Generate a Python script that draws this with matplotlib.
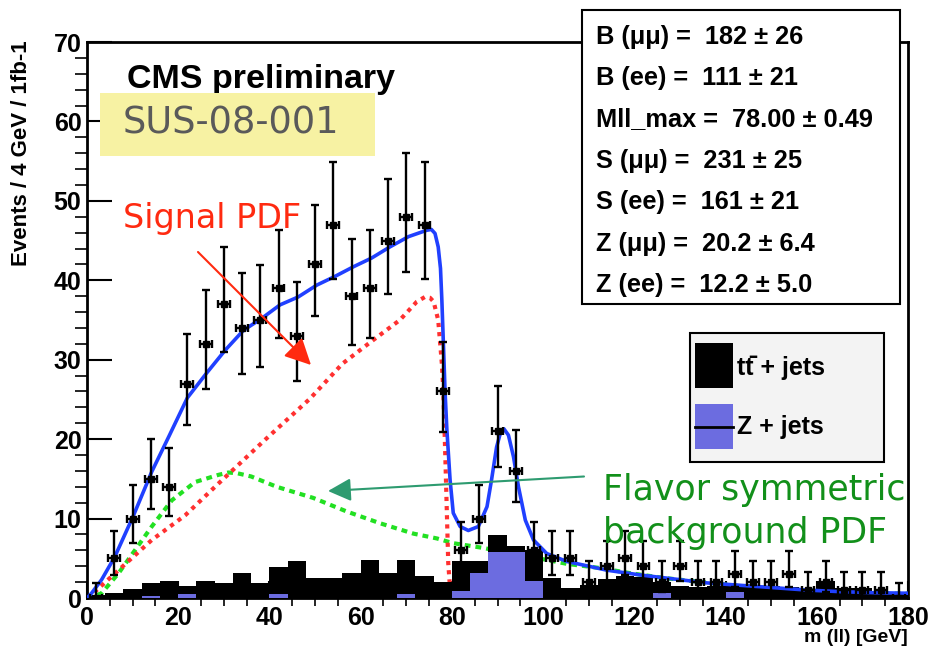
import numpy as np
import matplotlib
matplotlib.use("Agg")
import matplotlib.pyplot as plt
from matplotlib.patches import Rectangle, FancyArrowPatch
from matplotlib.lines import Line2D

W, H = 935, 657

# 4 GeV bins from 0 to 180 GeV
edges = np.arange(0, 184, 4)
centers = edges[:-1] + 2

# observed events per bin
data_counts = [0, 5, 10, 15, 14, 27, 32, 37, 34, 35,
               39, 33, 42, 47, 38, 39, 45, 48, 47, 26,
               6, 10, 21, 16, 6, 5, 5, 2, 4, 5,
               4, 2, 4, 2, 2, 3, 2, 2, 3, 1,
               2, 1, 1, 1, 0]

# stacked MC: ttbar + Z (total) and Z+jets on its own
total_mc = [0.4, 0.6, 1.1, 1.85, 2.2, 1.5, 2.2, 1.85, 3.1, 1.85,
            3.9, 4.6, 2.5, 2.5, 3.1, 4.8, 3.1, 4.8, 2.8, 2.0,
            4.6, 4.6, 7.9, 6.5, 6.0, 2.5, 1.3, 1.6, 2.4, 2.8,
            2.6, 2.0, 1.5, 1.4, 1.5, 1.6, 1.4, 1.5, 1.4, 1.0,
            2.2, 1.2, 1.2, 0.8, 0.8]
z_jets = [0, 0, 0, 0.3, 0, 0.5, 0, 0, 0, 0,
          0.5, 0, 0, 0, 0, 0, 0, 0.5, 0, 0,
          0.9, 3.2, 5.8, 5.8, 2.2, 0, 0, 0, 0, 0,
          0, 0.6, 0, 0, 0, 0.7, 0, 0, 0, 0,
          0, 0, 0, 0, 0]

# fitted PDFs, sampled along m(ll)
total_m = [0, 1, 3.2, 6.1, 10.2, 14.2, 18, 22, 26.2, 30.3, 34.3, 38.3, 42.3,
           46.3, 50.4, 54.4, 58.4, 62.4, 66.4, 70.5, 74.5, 75.5, 76.3, 77,
           77.5, 77.8, 78.2, 78.5, 78.9, 79.6, 80.3, 81.8, 83.6, 85.8, 87.7,
           88.7, 89.8, 90.6, 91.4, 92.4, 93.5, 94.6, 96.1, 97.9, 100.8,
           105.2, 114, 121.3, 128.6, 135.9, 143.2, 150.5, 157.8, 165.1,
           172.4, 180]
total_y = [0, 0.6, 2.3, 5.2, 10.4, 15.9, 20.4, 25.2, 28.3, 31.2, 33.7, 35.2,
           36.9, 37.9, 39.4, 40.5, 41.7, 42.8, 44.2, 45.5, 46.3, 46.4, 45.9,
           44.2, 41.5, 37.5, 31, 26, 21.2, 14.9, 10.7, 9.0, 8.5, 9.0, 11.5,
           14.9, 19.0, 20.7, 21.3, 20.5, 17.8, 14.0, 9.8, 7.3, 5.6, 4.6, 3.5,
           2.9, 2.4, 1.9, 1.6, 1.3, 1.0, 0.8, 0.67, 0.6]

signal_m = [0, 1.75, 6.9, 14.2, 21.5, 28.8, 39, 48.9, 56, 62.8, 68.6, 72.3,
            74.1, 75.2, 76, 77, 77.8, 78.1, 78.5, 78.9, 79.2, 79.6, 80.2]
signal_y = [0, 0.8, 3.5, 7.3, 10.4, 14.4, 19.9, 25.1, 29.5, 32.5, 35, 37.3,
            37.9, 37.8, 37.3, 35, 29.5, 26.5, 19, 10.7, 4.4, 1.2, 0]

bkg_m = [0, 1, 3.2, 6.9, 10.5, 14.2, 18.6, 23.7, 28.8, 31, 33, 36, 41.6,
         49.6, 56.9, 64.3, 71.6, 76.7, 80.3, 86.9, 93, 100.8, 105.2, 112.1,
         119.4, 126.8, 134.1, 141.4, 149.4, 156.7, 164, 171.3, 180]
bkg_y = [0, 0.1, 0.6, 3.1, 6.0, 9.0, 12.3, 14.6, 15.5, 15.8, 15.7, 15.3,
         14.0, 12.6, 10.9, 9.4, 8.1, 7.5, 6.9, 6.3, 5.6, 4.8, 4.3, 3.8, 3.1,
         2.5, 2.05, 1.6, 1.2, 1.0, 0.8, 0.6, 0.55]

# fit results shown in the parameter box
fit_params = ["B (\u03bc\u03bc) =  182 \u00b1 26",
              "B (ee) =  111 \u00b1 21",
              "Mll_max =  78.00 \u00b1 0.49",
              "S (\u03bc\u03bc) =  231 \u00b1 25",
              "S (ee) =  161 \u00b1 21",
              "Z (\u03bc\u03bc) =  20.2 \u00b1 6.4",
              "Z (ee) =  12.2 \u00b1 5.0"]


def fx(px):
    return px / W


def fy(py):
    return 1 - py / H


# approximate Poisson (Gehrels) 1-sigma intervals
n = np.array(data_counts, dtype=float)
err_hi = np.sqrt(n + 0.75) + 1
err_lo = np.zeros_like(n)
pos = n > 0
err_lo[pos] = n[pos] - n[pos] * (1 - 1 / (9 * n[pos]) - 1 / (3 * np.sqrt(n[pos]))) ** 3

plt.rcParams['font.family'] = ['Liberation Sans', 'DejaVu Sans']
plt.rcParams['font.weight'] = 'bold'

fig = plt.figure(figsize=(W / 100, H / 100), dpi=100)
ax = fig.add_axes([fx(87), fy(598), fx(908) - fx(87), fy(42) - fy(598)])

ax.plot(bkg_m, bkg_y, color='#22e022', lw=3, ls=(0, (1.4, 1.2)), zorder=2)
ax.plot(signal_m, signal_y, color='#ff3030', lw=3, ls=(0, (1.0, 1.2)), zorder=2)

ax.stairs(total_mc, edges, fill=True, color='black', lw=1, zorder=3)
ax.stairs(z_jets, edges, fill=True, facecolor='#6c6ce0', lw=0, zorder=3.5)

ax.plot(total_m, total_y, color='#2040ff', lw=2.6, zorder=4)

ax.errorbar(centers, data_counts, xerr=1.3, yerr=[err_lo, err_hi], fmt='s',
            ms=4, color='black', elinewidth=1.7, capsize=2.8, capthick=1.7,
            zorder=6)

ax.set_xlim(0, 180)
ax.set_ylim(0, 70)
ax.set_xticks(np.arange(0, 181, 20))
ax.set_xticks(np.arange(0, 181, 5), minor=True)
ax.set_yticks(np.arange(0, 71, 10))
ax.set_yticks(np.arange(0, 71, 2), minor=True)
ax.tick_params(axis='both', direction='in', labelsize=18, width=1.5)
ax.tick_params(axis='x', which='major', length=12, pad=6)
ax.tick_params(axis='x', which='minor', length=6, width=1.2)
ax.tick_params(axis='y', which='major', length=18, pad=4)
ax.tick_params(axis='y', which='minor', length=9, width=1.2)
for lab in ax.get_xticklabels() + ax.get_yticklabels():
    lab.set_fontweight('bold')
for sp in ax.spines.values():
    sp.set_linewidth(2)

fig.text(fx(22), fy(40), "Events / 4 GeV / 1fb-1", rotation=90, ha='center',
         va='top', fontsize=16, fontweight='bold')
fig.text(fx(908), fy(637), "m (ll) [GeV]", ha='right', va='center',
         fontsize=14, fontweight='bold')

fig.text(fx(127), fy(88), "CMS preliminary", fontsize=24.5, fontweight='bold',
         va='baseline')

# yellow tag
fig.add_artist(Rectangle((fx(100), fy(156)), fx(375) - fx(100), fy(93) - fy(156),
                         transform=fig.transFigure, facecolor='#f7f2a3',
                         edgecolor='none', zorder=5))
fig.text(fx(123), fy(133), "SUS-08-001", fontsize=26.5, color='#5a5a5a',
         family='DejaVu Sans', fontweight='normal', va='baseline', zorder=6)

fig.text(fx(123), fy(228), "Signal PDF", fontsize=24, color='#ff2a10',
         family='DejaVu Sans', fontweight='normal', va='baseline', zorder=6)
fig.add_artist(FancyArrowPatch((fx(198), fy(252)), (fx(311), fy(365)),
                               transform=fig.transFigure, color='#ff2a10',
                               lw=1.5, arrowstyle='-|>,head_length=16,head_width=8',
                               mutation_scale=1, shrinkA=0, shrinkB=0, zorder=6))

fig.text(fx(603), fy(500), "Flavor symmetric", fontsize=25, color='#12901a',
         family='DejaVu Sans', fontweight='normal', va='baseline', zorder=6)
fig.text(fx(603), fy(543), "background PDF", fontsize=25, color='#12901a',
         family='DejaVu Sans', fontweight='normal', va='baseline', zorder=6)
fig.add_artist(FancyArrowPatch((fx(584), fy(476.5)), (fx(328), fy(491)),
                               transform=fig.transFigure, color='#2e9b70',
                               lw=1.5, arrowstyle='-|>,head_length=14,head_width=7',
                               mutation_scale=1, shrinkA=0, shrinkB=0, zorder=6))

# fit parameter box
fig.add_artist(Rectangle((fx(582), fy(304)), fx(900) - fx(582), fy(10) - fy(304),
                         transform=fig.transFigure, facecolor='white',
                         edgecolor='black', lw=1.5, zorder=5))
for i, line in enumerate(fit_params):
    fig.text(fx(596), fy(36.7 + 41.4 * i), line, fontsize=18.3, fontweight='bold',
             va='center', zorder=6)

# legend
fig.add_artist(Rectangle((fx(690), fy(462)), fx(884) - fx(690), fy(333) - fy(462),
                         transform=fig.transFigure, facecolor='#f3f3f3',
                         edgecolor='black', lw=1.5, zorder=5))
fig.add_artist(Rectangle((fx(695), fy(388)), fx(733) - fx(695), fy(343) - fy(388),
                         transform=fig.transFigure, facecolor='black',
                         edgecolor='none', zorder=6))
fig.add_artist(Rectangle((fx(695), fy(449)), fx(733) - fx(695), fy(404) - fy(449),
                         transform=fig.transFigure, facecolor='#6c6ce0',
                         edgecolor='none', zorder=6))
fig.add_artist(Line2D([fx(695), fx(733)], [fy(427), fy(427)],
                      transform=fig.transFigure, color='black', lw=2, zorder=7))
fig.text(fx(737), fy(368), "tt\u0304 + jets", fontsize=18, fontweight='bold',
         va='center', zorder=7)
fig.text(fx(737), fy(427), "Z + jets", fontsize=18, fontweight='bold',
         va='center', zorder=7)

fig.savefig("out.png", dpi=100)
